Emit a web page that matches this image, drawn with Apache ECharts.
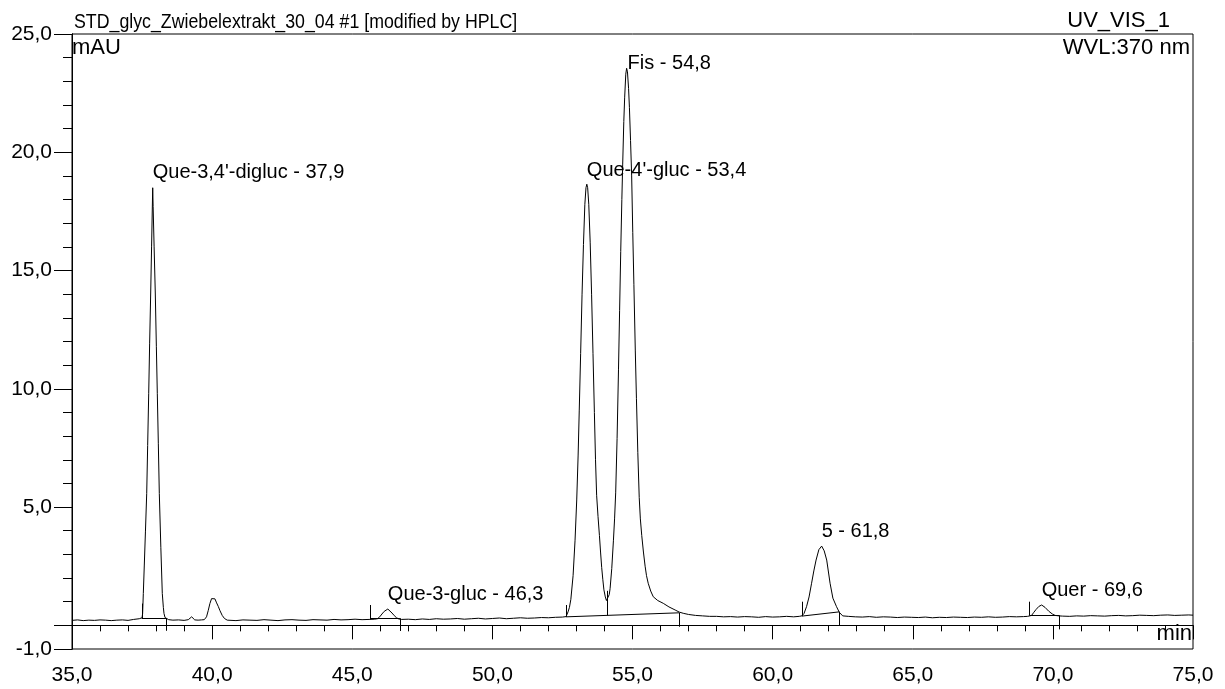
<!DOCTYPE html>
<html><head><meta charset="utf-8">
<script src="https://cdn.jsdelivr.net/npm/echarts@6/dist/echarts.min.js"></script>
<style>html,body{margin:0;padding:0;background:#fff}#c{width:1225px;height:689px}</style>
</head><body><div id="c"></div>
<script>
// Retention time (min)
const retentionTime = [
  35.0, 35.2, 35.4, 35.6, 35.8, 36.0, 36.2, 36.4, 36.6, 36.8, 37.0, 37.2, 37.4,
  37.47, 37.50, 37.52, 37.545, 37.58, 37.62, 37.666, 37.70, 37.737, 37.77, 37.808, 37.84, 37.865, 37.88, 37.895, 37.93, 37.972, 38.01, 38.044, 38.08, 38.115, 38.17, 38.222, 38.26, 38.283, 38.32, 38.36,
  38.45, 38.6, 38.8, 39.0, 39.15, 39.27, 39.38, 39.5, 39.62,
  39.72, 39.80, 39.86, 39.92, 39.98, 40.04, 40.10, 40.16, 40.22, 40.28, 40.36, 40.44, 40.50, 40.54,
  40.6, 40.85, 41.1, 41.35, 41.6, 41.85, 42.1, 42.35, 42.6, 42.85, 43.1, 43.35, 43.6, 43.85, 44.1, 44.35, 44.6, 44.85, 45.1, 45.35, 45.6, 45.8,
  45.9, 45.98, 46.06, 46.14, 46.2, 46.27, 46.34, 46.42, 46.5, 46.58, 46.66,
  46.75, 47.0, 47.25, 47.5, 47.75, 48.0, 48.25, 48.5, 48.75, 49.0, 49.25, 49.5, 49.75, 50.0, 50.25, 50.5, 50.75, 51.0, 51.25, 51.5, 51.75, 52.0, 52.25, 52.5,
  52.63, 52.70, 52.75, 52.80, 52.88, 52.95, 53.01, 53.06, 53.10, 53.15, 53.20, 53.25, 53.30, 53.34, 53.37, 53.40, 53.44, 53.49, 53.54, 53.59, 53.64, 53.68, 53.72, 53.77, 53.82, 53.86, 53.90, 53.94, 53.98, 54.03, 54.07, 54.10, 54.13, 54.17, 54.20, 54.26, 54.32, 54.36, 54.40, 54.45, 54.50, 54.54, 54.58, 54.62, 54.65, 54.69, 54.72, 54.76, 54.79, 54.82, 54.86, 54.89, 54.93, 54.97, 55.01, 55.05, 55.10, 55.14, 55.19, 55.24, 55.28, 55.33, 55.39, 55.45, 55.50, 55.56, 55.65, 55.74, 55.90, 56.10, 56.30, 56.52, 56.67, 56.81,
  57.0, 57.25, 57.5, 57.75, 58.0, 58.25, 58.5, 58.75, 59.0, 59.25, 59.5, 59.75, 60.0, 60.25, 60.5, 60.75, 60.95,
  61.04, 61.12, 61.21, 61.30, 61.39, 61.47, 61.55, 61.65, 61.75, 61.84, 61.93, 62.05, 62.15, 62.28, 62.38, 62.50,
  62.7, 62.95, 63.2, 63.45, 63.7, 63.95, 64.2, 64.45, 64.7, 64.95, 65.2, 65.45, 65.7, 65.95, 66.2, 66.45, 66.7, 66.95, 67.2, 67.45, 67.7, 67.95, 68.2, 68.45, 68.7, 68.95,
  69.10, 69.24, 69.32, 69.40, 69.50, 69.60, 69.72, 69.85, 69.98, 70.08, 70.22,
  70.35, 70.6, 70.85, 71.1, 71.35, 71.6, 71.85, 72.1, 72.35, 72.6, 72.85, 73.1, 73.35, 73.6, 73.85, 74.1, 74.35, 74.6, 74.85, 75.0
];
// Signal (mAU)
const absorbance = [
  0.21, 0.23, 0.20, 0.22, 0.21, 0.23, 0.22, 0.20, 0.22, 0.23, 0.21, 0.25, 0.28,
  0.29, 0.32, 0.50, 1.35, 2.55, 3.95, 5.58, 7.60, 9.81, 11.90, 14.05, 16.00, 17.60, 18.50, 17.70, 16.00, 14.05, 11.80, 9.81, 7.70, 5.58, 3.30, 1.35, 0.75, 0.50, 0.33, 0.26,
  0.24, 0.22, 0.23, 0.21, 0.24, 0.36, 0.23, 0.22, 0.23,
  0.24, 0.36, 0.62, 0.92, 1.13, 1.21, 1.12, 0.95, 0.80, 0.62, 0.42, 0.29, 0.33, 0.22,
  0.22, 0.20, 0.23, 0.22, 0.21, 0.24, 0.22, 0.20, 0.23, 0.24, 0.22, 0.21, 0.24, 0.23, 0.22, 0.25, 0.23, 0.24, 0.26, 0.24, 0.25, 0.26,
  0.28, 0.36, 0.48, 0.59, 0.66, 0.69, 0.64, 0.52, 0.41, 0.32, 0.27,
  0.25, 0.26, 0.24, 0.27, 0.25, 0.28, 0.26, 0.27, 0.29, 0.26, 0.28, 0.30, 0.27, 0.29, 0.31, 0.28, 0.30, 0.32, 0.30, 0.31, 0.33, 0.32, 0.34, 0.35,
  0.37, 0.57, 0.76, 1.10, 2.10, 3.60, 5.30, 7.20, 9.10, 11.50, 14.00, 16.10, 17.80, 18.50, 18.65, 18.50, 17.80, 16.20, 14.00, 11.50, 9.00, 7.00, 5.50, 4.60, 3.80, 3.10, 2.45, 1.95, 1.50, 1.20, 1.05, 1.00, 1.10, 1.30, 1.55, 2.40, 3.60, 4.50, 5.60, 7.90, 10.80, 13.30, 15.80, 18.00, 19.50, 21.30, 22.30, 23.30, 23.55, 23.40, 22.70, 21.90, 20.50, 19.00, 16.60, 14.40, 11.60, 9.60, 7.30, 5.40, 4.50, 3.80, 3.10, 2.50, 2.10, 1.78, 1.45, 1.21, 1.05, 0.93, 0.78, 0.65, 0.56, 0.51,
  0.46, 0.42, 0.40, 0.38, 0.38, 0.36, 0.37, 0.35, 0.37, 0.36, 0.34, 0.37, 0.35, 0.36, 0.38, 0.36, 0.38,
  0.40, 0.50, 0.79, 1.20, 1.78, 2.30, 2.76, 3.20, 3.35, 3.15, 2.76, 1.78, 1.15, 0.79, 0.55, 0.40,
  0.38, 0.36, 0.35, 0.37, 0.34, 0.36, 0.35, 0.33, 0.35, 0.34, 0.33, 0.35, 0.32, 0.34, 0.33, 0.35, 0.34, 0.33, 0.35, 0.34, 0.36, 0.34, 0.35, 0.37, 0.36, 0.37,
  0.38, 0.42, 0.55, 0.67, 0.80, 0.86, 0.76, 0.60, 0.48, 0.42, 0.40,
  0.39, 0.38, 0.40, 0.39, 0.41, 0.40, 0.39, 0.41, 0.42, 0.40, 0.41, 0.43, 0.42, 0.41, 0.43, 0.44, 0.42, 0.43, 0.44, 0.43
];
const peakNames = ["Que-3,4'-digluc - 37,9", "Que-3-gluc - 46,3", "Que-4'-gluc - 53,4", "Fis - 54,8", "5 - 61,8", "Quer - 69,6"];
const peakTimes = [37.88, 46.27, 53.37, 54.79, 61.75, 69.60];
const peakHeights = [18.50, 0.69, 18.65, 23.55, 3.35, 0.86];
// integration marks: [t1, v1, t2, v2]
const integrationMarks = [
  [37.49, 0.30, 37.49, 0.92], [37.49, 0.30, 38.38, 0.30], [38.38, 0.30, 38.38, -0.23],
  [45.66, 0.26, 45.66, 0.86], [45.66, 0.30, 46.70, 0.30], [46.70, 0.30, 46.70, -0.24],
  [52.63, 0.36, 52.63, 0.86], [52.63, 0.36, 56.67, 0.53], [54.10, 0.42, 54.10, 1.46], [56.67, 0.53, 56.67, -0.06],
  [61.04, 0.39, 61.04, 1.00], [61.04, 0.39, 62.38, 0.57], [62.38, 0.57, 62.38, 0.01],
  [69.16, 0.42, 69.16, 1.00], [69.16, 0.42, 70.23, 0.42], [70.23, 0.42, 70.23, -0.17]
];
const yLabelValues = [-1, 5, 10, 15, 20, 25];
const yMajorTickValues = [-1, 0, 5, 10, 15, 20, 25];
const titleText = 'STD_glyc_Zwiebelextrakt_30_04 #1 [modified by HPLC]';
const yUnit = 'mAU';
const xUnit = 'min';
const channelText = 'UV_VIS_1';
const wavelengthText = 'WVL:370 nm';

const FONT = '"Liberation Sans", Arial, sans-serif';
const fmt = v => v.toFixed(1).replace('.', ',');
const chart = echarts.init(document.getElementById('c'), null, {renderer: 'canvas'});
const seriesData = retentionTime.map((t, i) => [t, absorbance[i]]);
const labelOffsets = {3: [1, 10], 2: [0, 1]};

chart.setOption({
  animation: false,
  backgroundColor: '#fff',
  grid: {left: 72, right: 32, top: 34, bottom: 40, show: true, borderColor: '#000', borderWidth: 1, backgroundColor: 'transparent'},
  xAxis: {
    type: 'value', min: 35, max: 75, interval: 5,
    axisLine: {lineStyle: {color: '#000', width: 1}},
    axisTick: {length: 14, lineStyle: {color: '#000', width: 1}},
    minorTick: {show: true, splitNumber: 5, length: 6, lineStyle: {color: '#000', width: 1}},
    splitLine: {show: false}, minorSplitLine: {show: false},
    axisLabel: {color: '#000', fontSize: 21, fontFamily: FONT, margin: 16, formatter: fmt, showMinLabel: true, showMaxLabel: true}
  },
  yAxis: [{
    type: 'value', min: -1, max: 25, interval: 1, position: 'left',
    axisLine: {show: true, lineStyle: {color: '#000', width: 1}},
    axisTick: {show: true, length: 9, lineStyle: {color: '#000', width: 1}},
    axisLabel: {show: false}, splitLine: {show: false}
  }, {
    type: 'value', min: -1, max: 25, position: 'left',
    axisLine: {show: true, lineStyle: {color: '#000', width: 1}},
    axisTick: {show: true, length: 18, customValues: yMajorTickValues, lineStyle: {color: '#000', width: 1}},
    axisLabel: {show: true, customValues: yLabelValues, formatter: fmt, color: '#000', fontSize: 21, fontFamily: FONT, margin: 20},
    splitLine: {show: false}
  }],
  series: [{
    type: 'line', data: seriesData, yAxisIndex: 0, symbol: 'none', showSymbol: false,
    lineStyle: {color: '#000', width: 1}, silent: true,
    markLine: {
      silent: true, symbol: ['none', 'none'], animation: false,
      label: {show: false},
      lineStyle: {color: '#000', width: 1, type: 'solid'},
      emphasis: {disabled: true},
      data: integrationMarks.map(m => [{coord: [m[0], m[1]]}, {coord: [m[2], m[3]]}])
    }
  }, {
    type: 'scatter', yAxisIndex: 0, symbolSize: 0, silent: true,
    itemStyle: {color: '#000', opacity: 1},
    emphasis: {disabled: true},
    label: {show: true, position: 'top', align: 'left', distance: 5, color: '#000', opacity: 1, fontSize: 20, fontFamily: FONT, formatter: p => p.name},
    data: peakTimes.map((t, i) => ({
      value: [t, peakHeights[i]], name: peakNames[i],
      label: {offset: labelOffsets[i] || [0, 0]}
    }))
  }],
  graphic: [
    {type: 'text', x: 74, y: 12, scaleX: 0.888, style: {text: titleText, font: '20px ' + FONT, fill: '#000', verticalAlign: 'top'}},
    {type: 'text', x: 72, y: 37, style: {text: yUnit, font: '22px ' + FONT, fill: '#000', verticalAlign: 'top'}},
    {type: 'text', x: 1170, y: 10, style: {text: channelText, font: '22px ' + FONT, fill: '#000', align: 'right', verticalAlign: 'top'}},
    {type: 'text', x: 1190, y: 37, style: {text: wavelengthText, font: '22px ' + FONT, fill: '#000', align: 'right', verticalAlign: 'top'}},
    {type: 'text', x: 1192, y: 623, style: {text: xUnit, font: '22px ' + FONT, fill: '#000', align: 'right', verticalAlign: 'top'}}
  ]
});
</script></body></html>
